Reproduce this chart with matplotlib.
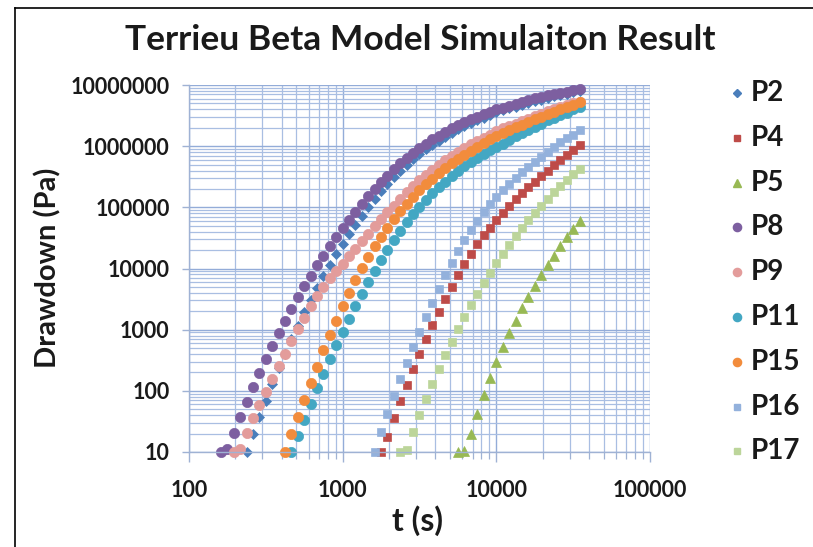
import matplotlib
matplotlib.use("Agg")
import matplotlib.pyplot as plt
from matplotlib.lines import Line2D
from matplotlib.ticker import LogLocator, FixedLocator, NullFormatter, FuncFormatter

plt.rcParams['font.family'] = ['Lato', 'DejaVu Sans']

# Shared time grid (s); every series ends on the last sample
t_s = [162, 178, 196, 215, 237, 261, 287, 316, 348, 383, 422, 464, 511, 562, 619,
       681, 750, 825, 909, 1000, 1101, 1212, 1334, 1468, 1616, 1778, 1957, 2154,
       2371, 2610, 2873, 3162, 3481, 3831, 4217, 4642, 5109, 5623, 6190, 6813,
       7499, 8254, 9085, 10000, 11007, 12115, 13335, 14678, 16156, 17783, 19573,
       21544, 23714, 26102, 28730, 31623, 34807]

# Drawdown (Pa) per observation point
p2 = [10, 20, 37, 69, 129, 234, 407, 692, 1150, 1910, 3020, 4790, 7410, 11500,
      17400, 25100, 36300, 51300, 72400, 100000, 135000, 182000, 240000, 309000,
      398000, 501000, 617000, 750000, 891000, 1060000, 1230000, 1430000, 1660000,
      1880000, 2140000, 2410000, 2660000, 2940000, 3240000, 3560000, 3840000,
      4130000, 4450000, 4780000, 5130000, 5520000, 5790000, 6240000, 6550000,
      6890000, 7230000, 7590000, 7940000]
p4 = [10, 17.8, 35.5, 67.6, 126, 229, 398, 692, 1170, 1950, 3160, 5010, 7760,
      11700, 17400, 25100, 34700, 46800, 61700, 81300, 105000, 135000, 170000,
      214000, 263000, 324000, 398000, 490000, 603000, 724000, 871000, 1050000]
p5 = [10, 10.5, 20, 41.7, 85.1, 162, 295, 513, 871, 1410, 2240, 3470, 5250, 7760,
      11200, 15800, 22900, 32400, 44700, 60300]
p8 = [10, 11, 20.4, 37.2, 66.1, 115, 195, 331, 550, 891, 1410, 2190, 3390, 5130,
      7590, 11200, 16200, 23400, 33100, 45700, 63100, 85100, 115000, 151000,
      200000, 257000, 331000, 417000, 525000, 646000, 776000, 933000, 1100000,
      1290000, 1480000, 1700000, 1950000, 2190000, 2450000, 2750000, 3020000,
      3310000, 3630000, 3980000, 4270000, 4570000, 4900000, 5250000, 5620000,
      6030000, 6310000, 6760000, 7080000, 7410000, 7760000, 8130000, 8510000]
p9 = [10, 11, 20.4, 35.5, 58.9, 95.5, 155, 251, 398, 646, 1020, 1580, 2400, 3550,
      5010, 6920, 9120, 12000, 15800, 20900, 28200, 37200, 49000, 64600, 83200,
      107000, 138000, 178000, 224000, 275000, 339000, 407000, 490000, 589000,
      692000, 813000, 933000, 1070000, 1230000, 1380000, 1550000, 1740000,
      1950000, 2140000, 2340000, 2570000, 2820000, 3090000, 3390000, 3720000,
      4070000, 4370000, 4680000, 5010000, 5370000]
p11 = [10, 18.6, 33.9, 61.7, 110, 191, 331, 562, 933, 1510, 2450, 3890, 6030,
       9120, 13800, 20400, 29500, 41700, 57500, 77600, 102000, 132000, 170000,
       214000, 263000, 324000, 389000, 468000, 550000, 646000, 741000, 851000,
       977000, 1100000, 1260000, 1450000, 1620000, 1860000, 2090000, 2340000,
       2630000, 2880000, 3240000, 3550000, 3980000, 4370000]
p15 = [10, 20, 38, 70.8, 132, 245, 457, 813, 1410, 2400, 3980, 6460, 10200,
       15500, 22900, 33100, 46800, 64600, 87100, 115000, 148000, 191000, 240000,
       295000, 363000, 437000, 525000, 617000, 724000, 832000, 977000, 1120000,
       1290000, 1450000, 1620000, 1820000, 2040000, 2240000, 2510000, 2750000,
       3020000, 3310000, 3630000, 3980000, 4370000, 4790000, 5250000]
p16 = [10, 20.9, 41.7, 81.3, 155, 288, 525, 933, 1620, 2750, 4680, 7760, 12300,
       19100, 28800, 42700, 60300, 83200, 112000, 145000, 191000, 240000, 302000,
       372000, 457000, 550000, 661000, 794000, 955000, 1150000, 1350000, 1550000,
       1820000]
p17 = [10, 10.7, 20.9, 39.8, 72.4, 129, 224, 380, 631, 1020, 1620, 2510, 3800,
       5750, 8510, 12300, 17400, 24500, 33900, 45700, 61700, 81300, 107000,
       138000, 178000, 224000, 282000, 347000, 427000]

series_names = ["P2", "P4", "P5", "P8", "P9", "P11", "P15", "P16", "P17"]
series_vals = [p2, p4, p5, p8, p9, p11, p15, p16, p17]
colors = ["#4a7ebb", "#be4b48", "#98b954", "#7d5fa0", "#e39c9b",
          "#43a7c3", "#f28c3c", "#93b1dc", "#bcd59a"]
markers = ["D", "s", "^", "o", "o", "o", "o", "s", "s"]
sizes = [4.6, 6.2, 6.8, 7.4, 7.4, 7.4, 7.4, 6.2, 6.2]

x_ticks = [100, 1000, 10000, 100000]
y_ticks = [10, 100, 1000, 10000, 100000, 1000000, 10000000]

fig = plt.figure(figsize=(8.13, 5.47), dpi=100)
W, H = 813, 547
ax = fig.add_axes([189 / W, 1 - 452 / H, (650 - 189) / W, (452 - 85) / H])

ax.set_xscale('log')
ax.set_yscale('log')
ax.set_xlim(100, 100000)
ax.set_ylim(10, 10000000)

grid_c = '#a9bee2'
ax.xaxis.set_major_locator(FixedLocator(x_ticks))
ax.yaxis.set_major_locator(FixedLocator(y_ticks))
ax.xaxis.set_minor_locator(LogLocator(base=10, subs=range(2, 10)))
ax.yaxis.set_minor_locator(LogLocator(base=10, subs=range(2, 10)))
ax.xaxis.set_minor_formatter(NullFormatter())
ax.yaxis.set_minor_formatter(NullFormatter())
fmt = FuncFormatter(lambda v, p: f"{int(round(v))}")
ax.xaxis.set_major_formatter(fmt)
ax.yaxis.set_major_formatter(fmt)
ax.grid(True, which='major', color='#93acd8', lw=1.0)
ax.grid(True, which='minor', color=grid_c, lw=0.9)
ax.set_axisbelow(True)

for s in ['top', 'right']:
    ax.spines[s].set_visible(False)
for s in ['left', 'bottom']:
    ax.spines[s].set_color('#9fb2d4')
    ax.spines[s].set_linewidth(1.0)

ax.tick_params(axis='x', which='major', length=7, width=1.0, color='#9fb2d4',
               labelsize=15.5, pad=13)
ax.tick_params(axis='x', which='minor', length=5, width=0.9, color='#9fb2d4')
ax.tick_params(axis='y', which='major', length=5, width=1.0, color='#9fb2d4',
               labelsize=15.5, pad=9)
ax.tick_params(axis='y', which='minor', length=0)
for lab in ax.get_xticklabels() + ax.get_yticklabels():
    lab.set_fontweight('bold')
    lab.set_color('#1a1a1a')

for name, vals, c, m, ms in zip(series_names, series_vals, colors, markers, sizes):
    ax.plot(t_s[-len(vals):], vals, linestyle='none', marker=m, ms=ms,
            color=c, markeredgecolor=c, markeredgewidth=0.5, clip_on=False,
            label=name)

ax.set_xlabel('t (s)', fontsize=23, fontweight='bold', color='#1a1a1a')
ax.set_ylabel('Drawdown (Pa)', fontsize=21, fontweight='bold', color='#1a1a1a')
ax.xaxis.label.set_va('center')
ax.yaxis.label.set_va('center')
ax.xaxis.set_label_coords((418 - 189) / 461, (452 - 521) / 367)
ax.yaxis.set_label_coords((48 - 189) / 461, (452 - 268) / 367)

fig.text(420 / W, 1 - 40 / H, 'Terrieu Beta Model Simulaiton Result',
         ha='center', va='center', fontsize=25.5, fontweight='bold', color='#1a1a1a')

# Legend to the right of the plot area
for i, (name, c, m, ms) in enumerate(zip(series_names, colors, markers, sizes)):
    yy = 1 - (93 + i * 44.8) / H
    fig.add_artist(Line2D([737 / W], [yy], marker=m, ms=ms * 0.8, color=c,
                          markeredgecolor=c, linestyle='none',
                          transform=fig.transFigure))
    fig.text(751 / W, yy, name, ha='left', va='center', fontsize=20,
             fontweight='bold', color='#1a1a1a')

# Chart frame (left and top edges)
fig.add_artist(Line2D([15 / W, 15 / W], [0, 1 - 8 / H], color='black', lw=1.2,
                      transform=fig.transFigure))
fig.add_artist(Line2D([15 / W, 1], [1 - 8 / H, 1 - 8 / H], color='black', lw=1.2,
                      transform=fig.transFigure))

fig.savefig('out.png', dpi=100)
